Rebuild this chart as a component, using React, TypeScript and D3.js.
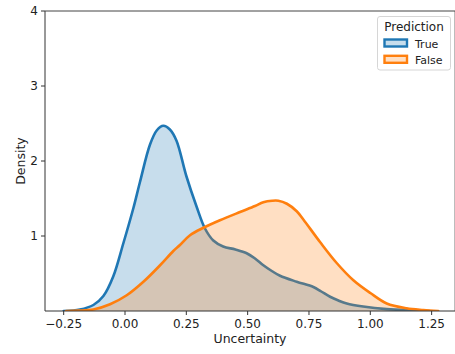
import React from "react";
import * as d3 from "d3";

const trueX = [-0.25, -0.184, -0.129, -0.088, -0.048, -0.007, 0.034, 0.061, 0.102, 0.13, 0.156, 0.183, 0.21, 0.25, 0.292, 0.326, 0.36, 0.4, 0.45, 0.496, 0.53, 0.564, 0.6, 0.632, 0.7, 0.768, 0.8, 0.836, 0.87, 0.904, 0.971, 1.067, 1.175, 1.24];
const trueY = [0.0, 0.02, 0.08, 0.2, 0.46, 0.9, 1.37, 1.72, 2.22, 2.41, 2.47, 2.42, 2.27, 1.8, 1.39, 1.1, 0.94, 0.86, 0.82, 0.77, 0.7, 0.61, 0.53, 0.47, 0.39, 0.32, 0.26, 0.19, 0.14, 0.1, 0.06, 0.025, 0.008, 0.0];

const falseX = [-0.24, -0.19, -0.129, -0.061, 0.007, 0.075, 0.143, 0.197, 0.224, 0.265, 0.32, 0.387, 0.469, 0.53, 0.564, 0.6, 0.625, 0.66, 0.7, 0.727, 0.795, 0.863, 0.931, 1.0, 1.067, 1.148, 1.216, 1.277];
const falseY = [0.0, 0.005, 0.02, 0.09, 0.21, 0.39, 0.61, 0.8, 0.88, 1.01, 1.11, 1.21, 1.32, 1.4, 1.45, 1.47, 1.47, 1.43, 1.33, 1.22, 0.92, 0.64, 0.41, 0.24, 0.1, 0.036, 0.013, 0.0];

const xTicks = [-0.25, 0, 0.25, 0.5, 0.75, 1.0, 1.25];
const yTicks = [1, 2, 3, 4];
const seriesNames = ["True", "False"];
const colors = ["#1f77b4", "#ff7f0e"];

const W = 455;
const H = 354;
const left = 45;
const top = 11;
const bottom = 311;

export default function App() {
  const x = d3.scaleLinear().domain([0, 1]).range([125, 125 + 245.3]);
  const y = d3.scaleLinear().domain([0, 4]).range([bottom, top]);
  const right = x(1.346);

  const series = [
    trueX.map((v, i) => [v, trueY[i]] as [number, number]),
    falseX.map((v, i) => [v, falseY[i]] as [number, number]),
  ];

  const curve = d3.curveCatmullRom.alpha(0.5);
  const area = d3
    .area<[number, number]>()
    .x((d) => x(d[0]))
    .y0(y(0))
    .y1((d) => y(d[1]))
    .curve(curve);
  const line = d3
    .line<[number, number]>()
    .x((d) => x(d[0]))
    .y((d) => y(d[1]))
    .curve(curve);

  const fmt = (v: number) => {
    const s = v.toFixed(2);
    return s.startsWith("-") ? "\u2212" + s.slice(1) : s;
  };

  const font = "DejaVu Sans, sans-serif";

  return (
    <svg
      width={W}
      height={H}
      style={{ position: "fixed", left: 0, top: 0, background: "#fff" }}
      fontFamily={font}
    >
      <rect width={W} height={H} fill="#fff" />
      <defs>
        <clipPath id="plotclip">
          <rect x={left} y={top - 2} width={right - left} height={bottom - top + 2} />
        </clipPath>
      </defs>
      <g clipPath="url(#plotclip)">
        {series.map((s, i) => (
          <g key={i}>
            <path d={area(s) || ""} fill={colors[i]} fillOpacity={0.25} stroke="none" />
            <path
              d={line(s) || ""}
              fill="none"
              stroke={colors[i]}
              strokeWidth={2.6}
              strokeLinejoin="round"
              strokeLinecap="round"
            />
          </g>
        ))}
      </g>
      {/* spines */}
      <line x1={left} x2={left} y1={top} y2={bottom} stroke="#333" strokeWidth={1} />
      <line x1={left} x2={right} y1={bottom} y2={bottom} stroke="#333" strokeWidth={1} />
      <line x1={left} x2={right} y1={top} y2={top} stroke="#444" strokeWidth={1} />
      <line x1={right} x2={right} y1={top} y2={bottom} stroke="#333" strokeWidth={1} />
      {/* x ticks */}
      {xTicks.map((t) => (
        <g key={t} transform={`translate(${x(t)},${bottom})`}>
          <line y1={0} y2={4} stroke="#333" strokeWidth={1} />
          <text y={17} textAnchor="middle" fontSize={12} fill="#222">
            {fmt(t)}
          </text>
        </g>
      ))}
      {/* y ticks */}
      {yTicks.map((t) => (
        <g key={t} transform={`translate(${left},${y(t)})`}>
          <line x1={0} x2={-4} stroke="#333" strokeWidth={1} />
          <text x={-7} dy="0.36em" textAnchor="end" fontSize={12} fill="#222">
            {t}
          </text>
        </g>
      ))}
      <text x={250} y={342.5} textAnchor="middle" fontSize={12.5} fill="#222">
        Uncertainty
      </text>
      <text
        transform={`translate(25,161) rotate(-90)`}
        textAnchor="middle"
        fontSize={12.5}
        fill="#222"
      >
        Density
      </text>
      {/* legend */}
      <g>
        <rect x={377.5} y={16.5} width={73} height={53.5} rx={2.5} fill="#fff" fillOpacity={0.8} stroke="#d6d6d6" strokeWidth={1} />
        <text x={414} y={30.5} textAnchor="middle" fontSize={12} fill="#222">
          Prediction
        </text>
        {seriesNames.map((n, i) => (
          <g key={n} transform={`translate(0,${i * 16.3})`}>
            <rect x={384.5} y={39.5} width={22.5} height={7} fill={colors[i]} fillOpacity={0.25} stroke={colors[i]} strokeWidth={2.4} />
            <text x={415} y={47.5} fontSize={11} fill="#222">
              {n}
            </text>
          </g>
        ))}
      </g>
    </svg>
  );
}
